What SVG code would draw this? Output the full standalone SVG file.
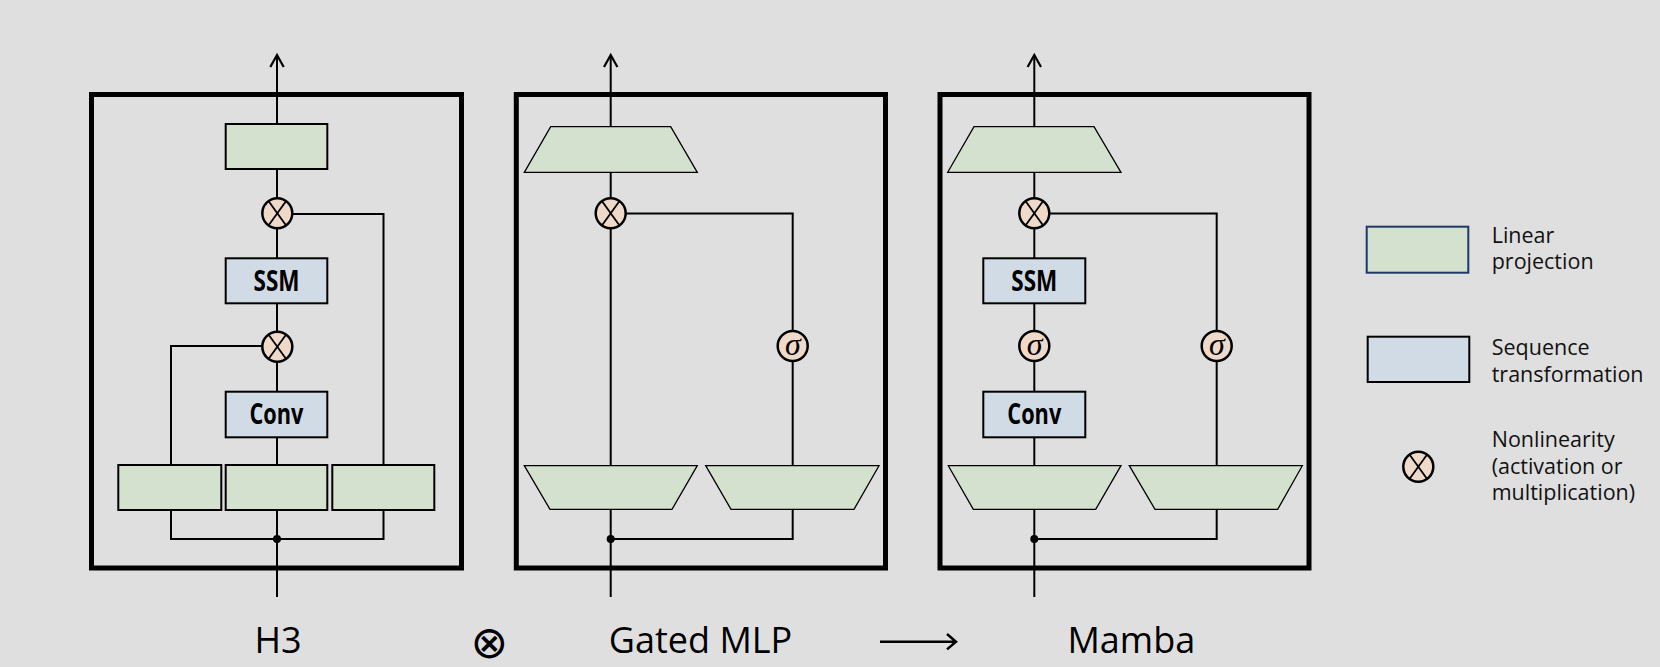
<svg xmlns="http://www.w3.org/2000/svg" width="1660" height="667" viewBox="0 0 1660 667">
<defs>
<style>
.bg{fill:#dfdfdf}
.frame{fill:none;stroke:#000;stroke-width:5}
.wire{fill:none;stroke:#000;stroke-width:2}
.head{fill:none;stroke:#000;stroke-width:2.2}
.lin{fill:#d5e1cf;stroke:#000;stroke-width:2}
.trap{fill:#d5e1cf;stroke:#000;stroke-width:1.3}
.seq{fill:#d0dbe5;stroke:#000;stroke-width:2}
.nl{fill:#efd9c9;stroke:#000;stroke-width:2.5}
.x{stroke:#000;stroke-width:1.8}
.blk{font-family:"Open Sans","Noto Sans",sans-serif;font-weight:bold;font-size:28px;fill:#000;text-anchor:middle}
.sig{font-family:"Liberation Serif",serif;font-style:italic;font-size:32px;fill:#000;text-anchor:middle}
.title{font-family:"Open Sans","Noto Sans",sans-serif;font-size:36px;fill:#000;text-anchor:middle}
.leg{font-family:"Open Sans","Noto Sans",sans-serif;font-size:21.5px;fill:#111}
</style>
<g id="otimes-sym">
<circle cx="0" cy="0" r="15" class="nl"/>
<line x1="-9" y1="-12.5" x2="9" y2="12.5" class="x"/>
<line x1="9" y1="-12.5" x2="-9" y2="12.5" class="x"/>
</g>
</defs>
<rect class="bg" x="0" y="0" width="1660" height="667"/>

<g id="connectors">
<!-- H3 -->
<path class="wire" d="M277,597 L277,56"/>
<path class="wire" d="M171,465 L171,346 L262,346"/>
<path class="wire" d="M383.5,465 L383.5,214 L292,214"/>
<path class="wire" d="M171,510 L171,539 L383.5,539 L383.5,510"/>
<!-- Gated MLP -->
<path class="wire" d="M610.7,597 L610.7,56"/>
<path class="wire" d="M610.7,539 L792.7,539 L792.7,213.5 L626,213.5"/>
<!-- Mamba -->
<path class="wire" d="M1034.3,597 L1034.3,56"/>
<path class="wire" d="M1034.3,539 L1216.7,539 L1216.7,213.5 L1050,213.5"/>
<!-- output arrowheads -->
<path class="head" d="M270.3,67 L277,55 L283.7,67"/>
<path class="head" d="M604,67 L610.7,55 L617.4,67"/>
<path class="head" d="M1027.6,67 L1034.3,55 L1041,67"/>
<circle cx="277" cy="539" r="4" fill="#000"/>
<circle cx="610.7" cy="539" r="4" fill="#000"/>
<circle cx="1034.3" cy="539" r="4" fill="#000"/>
</g>

<g id="frame-h3"><rect class="frame" x="91.5" y="94.5" width="370" height="473.5"/></g>
<g id="frame-gated"><rect class="frame" x="516.3" y="94.5" width="369.2" height="473.5"/></g>
<g id="frame-mamba"><rect class="frame" x="940" y="94.5" width="369" height="473.5"/></g>

<!-- H3 nodes -->
<g id="h3-out"><rect class="lin" x="225.7" y="124" width="101.6" height="45"/></g>
<g id="h3-mul1"><use href="#otimes-sym" x="277.3" y="213.3"/></g>
<g id="h3-ssm"><rect class="seq" x="225.7" y="258.3" width="101.6" height="45"/><text class="blk" x="276.5" y="290.5" textLength="46" lengthAdjust="spacingAndGlyphs">SSM</text></g>
<g id="h3-mul2"><use href="#otimes-sym" x="277.3" y="346.7"/></g>
<g id="h3-conv"><rect class="seq" x="225.7" y="391.7" width="101.6" height="45.6"/><text class="blk" x="276.5" y="424" textLength="54" lengthAdjust="spacingAndGlyphs">Conv</text></g>
<g id="h3-in1"><rect class="lin" x="118.3" y="465" width="103" height="45"/></g>
<g id="h3-in2"><rect class="lin" x="225.7" y="465" width="101.6" height="45"/></g>
<g id="h3-in3"><rect class="lin" x="332.3" y="465" width="102" height="45"/></g>

<!-- Gated MLP nodes -->
<g id="g-out"><polygon class="trap" points="550.7,126.7 670.7,126.7 697.3,172.3 524.3,172.3"/></g>
<g id="g-mul"><use href="#otimes-sym" x="610.7" y="213.3"/></g>
<g id="g-sig"><circle class="nl" cx="792.7" cy="346" r="15"/><text class="sig" x="793" y="355">σ</text></g>
<g id="g-in1"><polygon class="trap" points="524.3,465.7 697.3,465.7 672,509.3 550,509.3"/></g>
<g id="g-in2"><polygon class="trap" points="705.7,465.7 879,465.7 854,509.3 731,509.3"/></g>

<!-- Mamba nodes -->
<g id="m-out"><polygon class="trap" points="974,126.7 1094,126.7 1121,172.3 947.7,172.3"/></g>
<g id="m-mul"><use href="#otimes-sym" x="1034.3" y="213.3"/></g>
<g id="m-ssm"><rect class="seq" x="983.3" y="258.3" width="102" height="45"/><text class="blk" x="1034.3" y="290.5" textLength="46" lengthAdjust="spacingAndGlyphs">SSM</text></g>
<g id="m-sig1"><circle class="nl" cx="1034.3" cy="346" r="15"/><text class="sig" x="1034.6" y="355">σ</text></g>
<g id="m-sig2"><circle class="nl" cx="1216.7" cy="346" r="15"/><text class="sig" x="1217" y="355">σ</text></g>
<g id="m-conv"><rect class="seq" x="983.3" y="391.7" width="102" height="45.6"/><text class="blk" x="1034.3" y="424" textLength="54" lengthAdjust="spacingAndGlyphs">Conv</text></g>
<g id="m-in1"><polygon class="trap" points="948.3,465.7 1121,465.7 1095.7,509.3 973.3,509.3"/></g>
<g id="m-in2"><polygon class="trap" points="1129.3,465.7 1302.3,465.7 1277.7,509.3 1155,509.3"/></g>

<!-- Titles -->
<g id="titles">
<text class="title" x="278" y="653">H3</text>
<text class="title" x="700.5" y="653">Gated MLP</text>
<text class="title" x="1131.3" y="653">Mamba</text>
<text x="489.3" y="658" font-family="DejaVu Sans,sans-serif" font-size="45" text-anchor="middle" fill="#000">⊗</text>
<path d="M880,641.7 L955,641.7 M947,634 L956,641.7 L947,649.4" fill="none" stroke="#000" stroke-width="2.5"/>
</g>

<!-- Legend -->
<g id="legend-linear"><rect x="1366.7" y="226.7" width="101.6" height="46" fill="#d5e1cf" stroke="#1f3864" stroke-width="2"/><text class="leg" x="1491.7" y="242.7">Linear</text><text class="leg" x="1491.7" y="268.5">projection</text></g>
<g id="legend-seq"><rect class="seq" x="1367.7" y="336.7" width="101.6" height="45.3"/><text class="leg" x="1491.7" y="355">Sequence</text><text class="leg" x="1491.7" y="381.5">transformation</text></g>
<g id="legend-nl"><use href="#otimes-sym" x="1418.3" y="466.7"/><text class="leg" x="1491.7" y="446.7">Nonlinearity</text><text class="leg" x="1491.7" y="473.5">(activation or</text><text class="leg" x="1491.7" y="500">multiplication)</text></g>
</svg>
